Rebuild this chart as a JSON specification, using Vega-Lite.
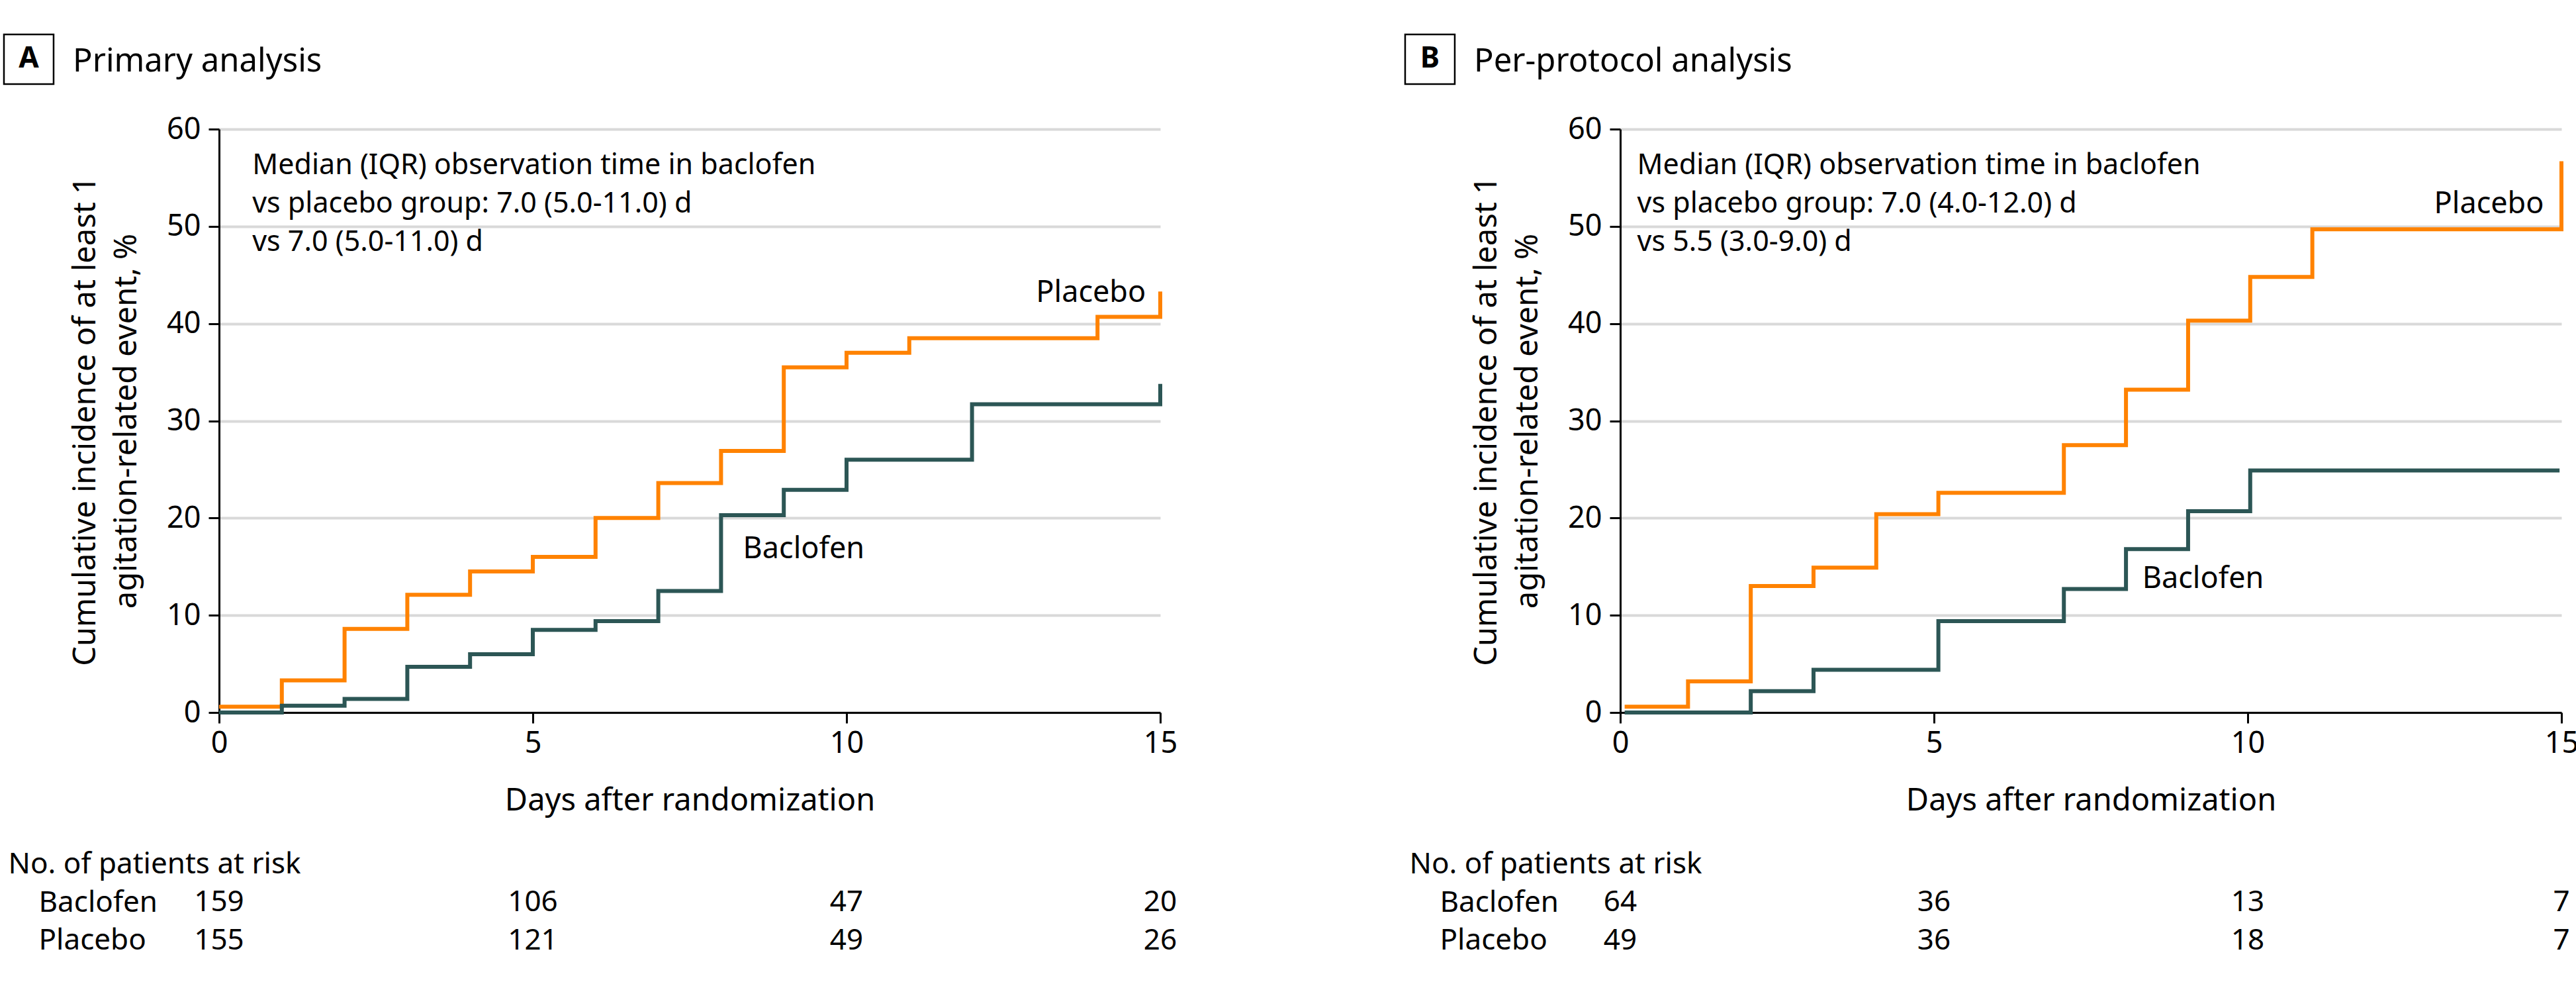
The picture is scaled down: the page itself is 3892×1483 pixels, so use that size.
{
  "$schema": "https://vega.github.io/schema/vega-lite/v6.json",
  "background": "white",
  "padding": {"left": 0, "top": 46, "right": 0, "bottom": 0},
  "datasets": {
    "curves": [
      {"panel": "A", "group": "Placebo", "day": 0, "pct": 0.6},
      {"panel": "A", "group": "Placebo", "day": 1, "pct": 3.3},
      {"panel": "A", "group": "Placebo", "day": 2, "pct": 8.6},
      {"panel": "A", "group": "Placebo", "day": 3, "pct": 12.1},
      {"panel": "A", "group": "Placebo", "day": 4, "pct": 14.5},
      {"panel": "A", "group": "Placebo", "day": 5, "pct": 16.0},
      {"panel": "A", "group": "Placebo", "day": 6, "pct": 20.0},
      {"panel": "A", "group": "Placebo", "day": 7, "pct": 23.6},
      {"panel": "A", "group": "Placebo", "day": 8, "pct": 26.9},
      {"panel": "A", "group": "Placebo", "day": 9, "pct": 35.5},
      {"panel": "A", "group": "Placebo", "day": 10, "pct": 37.0},
      {"panel": "A", "group": "Placebo", "day": 11, "pct": 38.5},
      {"panel": "A", "group": "Placebo", "day": 14, "pct": 40.7},
      {"panel": "A", "group": "Placebo", "day": 15, "pct": 40.7},
      {"panel": "A", "group": "Placebo", "day": 15, "pct": 43.3},
      {"panel": "A", "group": "Baclofen", "day": 0, "pct": 0},
      {"panel": "A", "group": "Baclofen", "day": 1, "pct": 0.7},
      {"panel": "A", "group": "Baclofen", "day": 2, "pct": 1.4},
      {"panel": "A", "group": "Baclofen", "day": 3, "pct": 4.7},
      {"panel": "A", "group": "Baclofen", "day": 4, "pct": 6.0},
      {"panel": "A", "group": "Baclofen", "day": 5, "pct": 8.5},
      {"panel": "A", "group": "Baclofen", "day": 6, "pct": 9.4},
      {"panel": "A", "group": "Baclofen", "day": 7, "pct": 12.5},
      {"panel": "A", "group": "Baclofen", "day": 8, "pct": 20.3},
      {"panel": "A", "group": "Baclofen", "day": 9, "pct": 22.9},
      {"panel": "A", "group": "Baclofen", "day": 10, "pct": 26.0},
      {"panel": "A", "group": "Baclofen", "day": 12, "pct": 31.7},
      {"panel": "A", "group": "Baclofen", "day": 15, "pct": 31.7},
      {"panel": "A", "group": "Baclofen", "day": 15, "pct": 33.8},
      {"panel": "B", "group": "Placebo", "day": 0.07, "pct": 0.6},
      {"panel": "B", "group": "Placebo", "day": 1.08, "pct": 3.2},
      {"panel": "B", "group": "Placebo", "day": 2.08, "pct": 13.0},
      {"panel": "B", "group": "Placebo", "day": 3.08, "pct": 14.9},
      {"panel": "B", "group": "Placebo", "day": 4.08, "pct": 20.4},
      {"panel": "B", "group": "Placebo", "day": 5.07, "pct": 22.6},
      {"panel": "B", "group": "Placebo", "day": 7.07, "pct": 27.5},
      {"panel": "B", "group": "Placebo", "day": 8.06, "pct": 33.2},
      {"panel": "B", "group": "Placebo", "day": 9.05, "pct": 40.3},
      {"panel": "B", "group": "Placebo", "day": 10.04, "pct": 44.8},
      {"panel": "B", "group": "Placebo", "day": 11.03, "pct": 49.7},
      {"panel": "B", "group": "Placebo", "day": 15, "pct": 49.7},
      {"panel": "B", "group": "Placebo", "day": 15, "pct": 56.7},
      {"panel": "B", "group": "Baclofen", "day": 0.07, "pct": 0},
      {"panel": "B", "group": "Baclofen", "day": 2.08, "pct": 2.2},
      {"panel": "B", "group": "Baclofen", "day": 3.08, "pct": 4.4},
      {"panel": "B", "group": "Baclofen", "day": 5.07, "pct": 9.4},
      {"panel": "B", "group": "Baclofen", "day": 7.07, "pct": 12.7},
      {"panel": "B", "group": "Baclofen", "day": 8.06, "pct": 16.8},
      {"panel": "B", "group": "Baclofen", "day": 9.05, "pct": 20.7},
      {"panel": "B", "group": "Baclofen", "day": 10.04, "pct": 24.9},
      {"panel": "B", "group": "Baclofen", "day": 14.97, "pct": 24.9}
    ],
    "risk": [
      {"panel": "A", "group": "Baclofen", "day": 0, "n": 159},
      {"panel": "A", "group": "Baclofen", "day": 5, "n": 106},
      {"panel": "A", "group": "Baclofen", "day": 10, "n": 47},
      {"panel": "A", "group": "Baclofen", "day": 15, "n": 20},
      {"panel": "A", "group": "Placebo", "day": 0, "n": 155},
      {"panel": "A", "group": "Placebo", "day": 5, "n": 121},
      {"panel": "A", "group": "Placebo", "day": 10, "n": 49},
      {"panel": "A", "group": "Placebo", "day": 15, "n": 26},
      {"panel": "B", "group": "Baclofen", "day": 0, "n": 64},
      {"panel": "B", "group": "Baclofen", "day": 5, "n": 36},
      {"panel": "B", "group": "Baclofen", "day": 10, "n": 13},
      {"panel": "B", "group": "Baclofen", "day": 15, "n": 7},
      {"panel": "B", "group": "Placebo", "day": 0, "n": 49},
      {"panel": "B", "group": "Placebo", "day": 5, "n": 36},
      {"panel": "B", "group": "Placebo", "day": 10, "n": 18},
      {"panel": "B", "group": "Placebo", "day": 15, "n": 7}
    ]
  },
  "bounds": "flush",
  "spacing": 2117,
  "hconcat": [
    {
      "bounds": "flush",
      "spacing": 201,
      "vconcat": [
        {
          "width": 1422,
          "height": 881,
          "layer": [
            {
              "data": {"name": "curves"},
              "transform": [{"filter": "datum.panel === 'A'"}],
              "mark": {"type": "line", "interpolate": "step-after", "strokeWidth": 6},
              "encoding": {
                "x": {"field": "day", "type": "quantitative", "scale": {"domain": [0, 15], "nice": false},
                  "axis": {"values": [0, 5, 10, 15], "format": "d", "grid": false, "domainColor": "black", "domainWidth": 3, "tickColor": "black", "tickWidth": 3, "tickSize": 16, "labelFontSize": 45, "labelColor": "black", "labelPadding": 8, "labelFlush": false, "labelOverlap": false, "title": "Days after randomization", "titleFontSize": 47, "titleFontWeight": "normal", "titleColor": "black", "titlePadding": 41}},
                "y": {"field": "pct", "type": "quantitative", "scale": {"domain": [0, 60], "nice": false},
                  "axis": {"values": [0, 10, 20, 30, 40, 50, 60], "format": "d", "grid": true, "gridColor": "#d9d9d9", "gridWidth": 4, "domainColor": "black", "domainWidth": 3, "tickColor": "black", "tickWidth": 3, "tickSize": 16, "labelFontSize": 45, "labelColor": "black", "labelPadding": 12, "labelFlush": false, "labelOverlap": false, "title": ["Cumulative incidence of at least 1", "agitation-related event, %"], "titleFontSize": 47, "titleFontWeight": "normal", "titleColor": "black", "titleLineHeight": 62, "titlePadding": 36}},
                "color": {"field": "group", "type": "nominal", "scale": {"domain": ["Baclofen", "Placebo"], "range": ["#2c5655", "#ff8200"]}, "legend": null},
                "order": {"value": null}
              }
            },
            {
              "data": {"values": [{"label": "Placebo"}]},
              "mark": {"type": "text", "align": "left", "baseline": "alphabetic", "fontSize": 45, "color": "black"},
              "encoding": {"x": {"datum": 13.02}, "y": {"datum": 42.2}, "text": {"field": "label"}}
            },
            {
              "data": {"values": [{"label": "Baclofen"}]},
              "mark": {"type": "text", "align": "left", "baseline": "alphabetic", "fontSize": 45, "color": "black"},
              "encoding": {"x": {"datum": 8.35}, "y": {"datum": 15.9}, "text": {"field": "label"}}
            },
            {
              "data": {"values": [{"note": "Median (IQR) observation time in baclofen\nvs placebo group: 7.0 (5.0-11.0) d\nvs 7.0 (5.0-11.0) d"}]},
              "mark": {"type": "text", "align": "left", "baseline": "alphabetic", "lineBreak": "\n", "lineHeight": 58, "fontSize": 43, "color": "black"},
              "encoding": {"x": {"datum": 0.53}, "y": {"datum": 55.37}, "text": {"field": "note"}}
            },
            {
              "data": {"values": [{"letter": "A"}]},
              "mark": {"type": "point", "shape": "square", "size": 5625, "filled": false, "color": "black", "stroke": "black", "strokeWidth": 2.5, "opacity": 1},
              "encoding": {"x": {"datum": -3.033}, "y": {"datum": 67.19}}
            },
            {
              "data": {"values": [{"letter": "A"}]},
              "mark": {"type": "text", "baseline": "middle", "align": "center", "fontSize": 44, "fontWeight": "bold", "color": "black"},
              "encoding": {"x": {"datum": -3.033}, "y": {"datum": 67.19}, "text": {"field": "letter"}}
            },
            {
              "data": {"values": [{"heading": "Primary analysis"}]},
              "mark": {"type": "text", "baseline": "alphabetic", "align": "left", "fontSize": 49, "color": "black"},
              "encoding": {"x": {"datum": -2.331}, "y": {"datum": 65.93}, "text": {"field": "heading"}}
            }
          ]
        },
        {
          "width": 1422,
          "height": 172.5,
          "data": {"name": "risk"},
          "transform": [{"filter": "datum.panel === 'A'"}],
          "mark": {"type": "text", "fontSize": 44, "baseline": "middle", "color": "black"},
          "encoding": {
            "x": {"field": "day", "type": "quantitative", "scale": {"domain": [0, 15], "nice": false}, "axis": null},
            "y": {"field": "group", "type": "nominal", "scale": {"domain": ["No. of patients at risk", "Baclofen", "Placebo"]}, "axis": {"title": null, "domain": false, "ticks": false, "tickSize": 0, "grid": false, "labelAlign": "left", "labelPadding": {"condition": {"test": "datum.value === 'No. of patients at risk'", "value": 319}, "value": 273}, "labelFontSize": 44, "labelColor": "black", "labelLimit": 0}},
            "text": {"field": "n", "type": "nominal"}
          }
        }
      ]
    },
    {
      "bounds": "flush",
      "spacing": 201,
      "vconcat": [
        {
          "width": 1422,
          "height": 881,
          "layer": [
            {
              "data": {"name": "curves"},
              "transform": [{"filter": "datum.panel === 'B'"}],
              "mark": {"type": "line", "interpolate": "step-after", "strokeWidth": 6},
              "encoding": {
                "x": {"field": "day", "type": "quantitative", "scale": {"domain": [0, 15], "nice": false},
                  "axis": {"values": [0, 5, 10, 15], "format": "d", "grid": false, "domainColor": "black", "domainWidth": 3, "tickColor": "black", "tickWidth": 3, "tickSize": 16, "labelFontSize": 45, "labelColor": "black", "labelPadding": 8, "labelFlush": false, "labelOverlap": false, "title": "Days after randomization", "titleFontSize": 47, "titleFontWeight": "normal", "titleColor": "black", "titlePadding": 41}},
                "y": {"field": "pct", "type": "quantitative", "scale": {"domain": [0, 60], "nice": false},
                  "axis": {"values": [0, 10, 20, 30, 40, 50, 60], "format": "d", "grid": true, "gridColor": "#d9d9d9", "gridWidth": 4, "domainColor": "black", "domainWidth": 3, "tickColor": "black", "tickWidth": 3, "tickSize": 16, "labelFontSize": 45, "labelColor": "black", "labelPadding": 12, "labelFlush": false, "labelOverlap": false, "title": ["Cumulative incidence of at least 1", "agitation-related event, %"], "titleFontSize": 47, "titleFontWeight": "normal", "titleColor": "black", "titleLineHeight": 62, "titlePadding": 36}},
                "color": {"field": "group", "type": "nominal", "scale": {"domain": ["Baclofen", "Placebo"], "range": ["#2c5655", "#ff8200"]}, "legend": null},
                "order": {"value": null}
              }
            },
            {
              "data": {"values": [{"label": "Placebo"}]},
              "mark": {"type": "text", "align": "left", "baseline": "alphabetic", "fontSize": 45, "color": "black"},
              "encoding": {"x": {"datum": 12.97}, "y": {"datum": 51.35}, "text": {"field": "label"}}
            },
            {
              "data": {"values": [{"label": "Baclofen"}]},
              "mark": {"type": "text", "align": "left", "baseline": "alphabetic", "fontSize": 45, "color": "black"},
              "encoding": {"x": {"datum": 8.32}, "y": {"datum": 12.8}, "text": {"field": "label"}}
            },
            {
              "data": {"values": [{"note": "Median (IQR) observation time in baclofen\nvs placebo group: 7.0 (4.0-12.0) d\nvs 5.5 (3.0-9.0) d"}]},
              "mark": {"type": "text", "align": "left", "baseline": "alphabetic", "lineBreak": "\n", "lineHeight": 58, "fontSize": 43, "color": "black"},
              "encoding": {"x": {"datum": 0.27}, "y": {"datum": 55.37}, "text": {"field": "note"}}
            },
            {
              "data": {"values": [{"letter": "B"}]},
              "mark": {"type": "point", "shape": "square", "size": 5625, "filled": false, "color": "black", "stroke": "black", "strokeWidth": 2.5, "opacity": 1},
              "encoding": {"x": {"datum": -3.033}, "y": {"datum": 67.19}}
            },
            {
              "data": {"values": [{"letter": "B"}]},
              "mark": {"type": "text", "baseline": "middle", "align": "center", "fontSize": 44, "fontWeight": "bold", "color": "black"},
              "encoding": {"x": {"datum": -3.033}, "y": {"datum": 67.19}, "text": {"field": "letter"}}
            },
            {
              "data": {"values": [{"heading": "Per-protocol analysis"}]},
              "mark": {"type": "text", "baseline": "alphabetic", "align": "left", "fontSize": 49, "color": "black"},
              "encoding": {"x": {"datum": -2.331}, "y": {"datum": 65.93}, "text": {"field": "heading"}}
            }
          ]
        },
        {
          "width": 1422,
          "height": 172.5,
          "data": {"name": "risk"},
          "transform": [{"filter": "datum.panel === 'B'"}],
          "mark": {"type": "text", "fontSize": 44, "baseline": "middle", "color": "black"},
          "encoding": {
            "x": {"field": "day", "type": "quantitative", "scale": {"domain": [0, 15], "nice": false}, "axis": null},
            "y": {"field": "group", "type": "nominal", "scale": {"domain": ["No. of patients at risk", "Baclofen", "Placebo"]}, "axis": {"title": null, "domain": false, "ticks": false, "tickSize": 0, "grid": false, "labelAlign": "left", "labelPadding": {"condition": {"test": "datum.value === 'No. of patients at risk'", "value": 319}, "value": 273}, "labelFontSize": 44, "labelColor": "black", "labelLimit": 0}},
            "text": {"field": "n", "type": "nominal"}
          }
        }
      ]
    }
  ],
  "config": {
    "font": "Noto Sans",
    "view": {"stroke": null}
  }
}
